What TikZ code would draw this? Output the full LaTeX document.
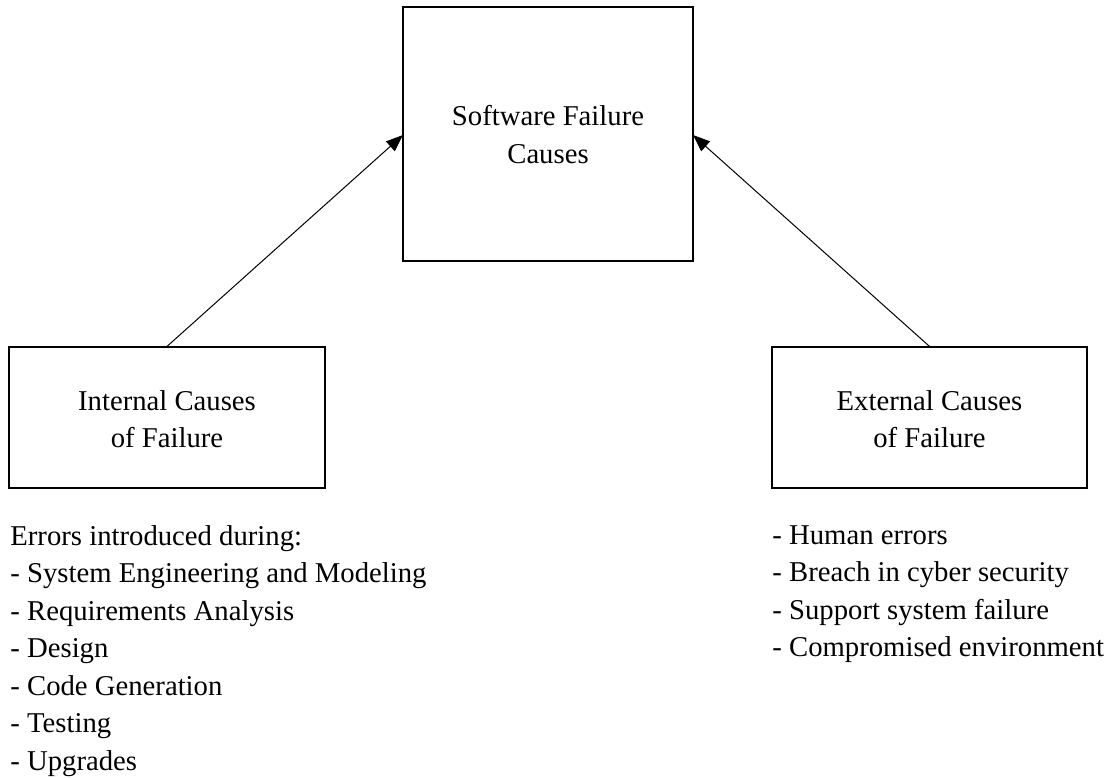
\documentclass[tikz,border=0pt]{standalone}
\usepackage{fontspec}
\setmainfont{Liberation Serif}
\usetikzlibrary{arrows.meta}
\begin{document}
\begin{tikzpicture}[x=0.5pt,y=-0.5pt,
  box/.style={draw,line width=0.6pt,inner sep=0pt},
  lbl/.style={align=center,font=\fontsize{14.35}{18.75}\selectfont},
  lst/.style={align=left,anchor=north west,inner sep=0pt,font=\fontsize{14.35}{18.75}\selectfont},
  conn/.style={line width=0.5pt,-{Triangle[length=8.5pt,width=6.5pt]}}]
\useasboundingbox (0,0) rectangle (1106,777);
\node[box,minimum width=145pt,minimum height=127pt] (top) at (548,134) {};
\node[lbl] (toptxt) at (548,134.5) {Software Failure\\Causes};
\node[box,minimum width=158pt,minimum height=70.5pt] (left) at (167,417.5) {};
\node[lbl] (lefttxt) at (167,419) {Internal Causes\\of Failure};
\node[box,minimum width=157.5pt,minimum height=70.5pt] (right) at (929.5,417.5) {};
\node[lbl] (righttxt) at (929.5,419) {External Causes\\of Failure};
\coordinate (ltip) at (403,135);
\coordinate (rtip) at (693,135);
\draw[conn] (left.north) -- (ltip);
\draw[conn] (right.north) -- (rtip);
\node[lst] (ilist) at (10,525) {Errors introduced during:\\- System Engineering and Modeling\\- Requirements Analysis\\- Design\\- Code Generation\\- Testing\\- Upgrades};
\node[lst] (elist) at (772,525) {- Human errors\\- Breach in cyber security\\- Support system failure\\- Compromised environment};
\end{tikzpicture}
\end{document}
